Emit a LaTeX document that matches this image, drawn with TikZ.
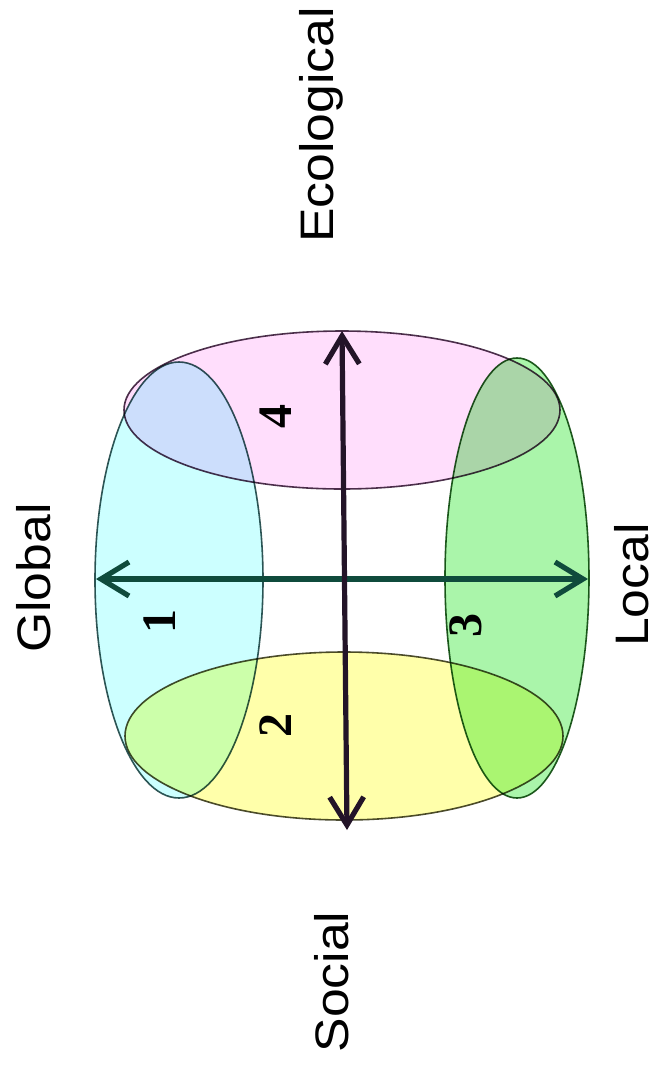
\documentclass[tikz,border=0pt]{standalone}
\usepackage{fontspec}
\setmainfont{Liberation Serif}
\setsansfont{Liberation Sans}
\usepackage{graphicx}
\usetikzlibrary{arrows.meta}

\begin{document}
\begin{tikzpicture}[
    x=0.5pt, y=-0.5pt,
    region/.style={line width=0.8pt},
    axis/.style={
        line width=2.6pt,
        {Straight Barb[length=14pt,width=17pt]}-{Straight Barb[length=14pt,width=17pt]}
    },
    dimlabel/.style={
        font=\sffamily\fontsize{23.5}{28}\selectfont,
        rotate=90,
        anchor=base,
        inner sep=0pt
    },
    numlabel/.style={
        font=\rmfamily\bfseries\fontsize{24}{28}\selectfont,
        rotate=90,
        inner sep=0pt
    }
]

% Colors
\definecolor{globalcyan}{RGB}{204,255,255}
\definecolor{ecopink}{RGB}{255,222,252}
\definecolor{socialyellow}{RGB}{255,255,170}
\definecolor{localgreen}{RGB}{170,245,170}
\definecolor{cyanline}{RGB}{50,85,85}
\definecolor{pinkline}{RGB}{75,50,75}
\definecolor{yellowline}{RGB}{75,75,50}
\definecolor{greenline}{RGB}{35,90,35}
\definecolor{scaleaxis}{RGB}{15,75,60}
\definecolor{domainaxis}{RGB}{35,20,40}

\useasboundingbox (0,0) rectangle (662,1078);

% Regions
\begin{scope}[blend mode=multiply]
\draw[region, fill=globalcyan, draw=cyanline] (179,580) ellipse [x radius=84, y radius=218];
\draw[region, fill=localgreen, draw=greenline] (517,578) ellipse [x radius=72, y radius=220];
\draw[region, fill=ecopink, draw=pinkline] (342,410) ellipse [x radius=218, y radius=79];
\draw[region, fill=socialyellow, draw=yellowline] (344,736) ellipse [x radius=219, y radius=84];
\end{scope}

% Axis ends
\coordinate (globalend) at (96,579);
\coordinate (localend) at (588,579);
\coordinate (ecoend) at (342,331);
\coordinate (socialend) at (347,830);

% Axes
\draw[axis, draw=scaleaxis] (globalend) -- (localend);
\draw[axis, draw=domainaxis] (socialend) -- (ecoend);

% Numbers
\node[numlabel] (n1) at (160,621) {1};
\node[numlabel] (n2) at (276,725) {2};
\node[numlabel] (n3) at (466,625) {3};
\node[numlabel] (n4) at (276,416) {4};

% Labels
\node[dimlabel] (ecological) at (333,125) {\scalebox{1.1}[1]{Ecological}};
\node[dimlabel] (social) at (348,982) {\scalebox{1.1}[1]{Social}};
\node[dimlabel] (global) at (50,578) {\scalebox{1.1}[1]{Global}};
\node[dimlabel] (local) at (648,585) {\scalebox{1.1}[1]{Local}};

\end{tikzpicture}
\end{document}
